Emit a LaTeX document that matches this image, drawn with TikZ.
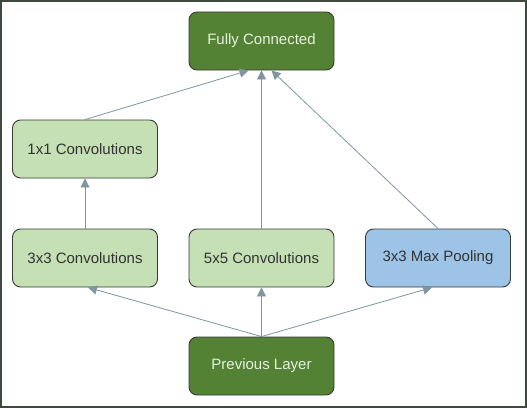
\documentclass[tikz,border=0pt]{standalone}
\usepackage{fontspec}
\setmainfont{Liberation Sans}
\usetikzlibrary{positioning, arrows.meta}
\definecolor{darkgreen}{HTML}{548235}
\definecolor{lightgreen}{HTML}{C5E0B4}
\definecolor{lightblue}{HTML}{9DC3E6}
\definecolor{boxline}{HTML}{3A3A3A}
\definecolor{arrowgrey}{HTML}{7F969E}
\definecolor{frameline}{HTML}{3E4A3E}
\definecolor{paletext}{HTML}{E6F0DE}
\tikzstyle{layer} = [rectangle, rounded corners=8pt, minimum width=145pt, minimum height=58pt, text centered, draw=boxline, line width=0.9pt, font=\fontsize{15}{18}\selectfont]
\tikzstyle{outer} = [layer, fill=darkgreen, text=paletext]
\tikzstyle{conv} = [layer, fill=lightgreen, text=black!80]
\tikzstyle{pool} = [layer, fill=lightblue, text=black!80]
\tikzstyle{arrow} = [arrowgrey, line width=0.8pt, -{Triangle[length=9pt,width=9pt]}]

\begin{document}
\begin{tikzpicture}[x=1pt, y=1pt, node distance=108pt and 176.5pt, on grid]
    \draw [frameline, line width=2pt, fill=white] (1,1) rectangle (526,407);
    \useasboundingbox (0,0) rectangle (527,408);

    \node (prev) [outer] at (261.5,42) {Previous Layer};
    \node (fivebyfive) [conv, above=of prev] {5x5 Convolutions};
    \node (threebythree) [conv, left=of fivebyfive] {3x3 Convolutions};
    \node (maxpool) [pool, right=of fivebyfive] {3x3 Max Pooling};
    \node (onebyone) [conv, above=109pt of threebythree] {1x1 Convolutions};
    \node (fc) [outer, above=217pt of fivebyfive] {Fully Connected};

    \draw [arrow] (prev.north) -- ([xshift=3pt]threebythree.south);
    \draw [arrow] (prev.north) -- (fivebyfive.south);
    \draw [arrow] (prev.north) -- ([xshift=-6pt]maxpool.south);
    \draw [arrow] (threebythree.north) -- (onebyone.south);
    \draw [arrow] (onebyone.north) -- ([xshift=-13pt]fc.south);
    \draw [arrow] (fivebyfive.north) -- (fc.south);
    \draw [arrow] (maxpool.north) -- ([xshift=10pt]fc.south);
  \end{tikzpicture}
\end{document}
